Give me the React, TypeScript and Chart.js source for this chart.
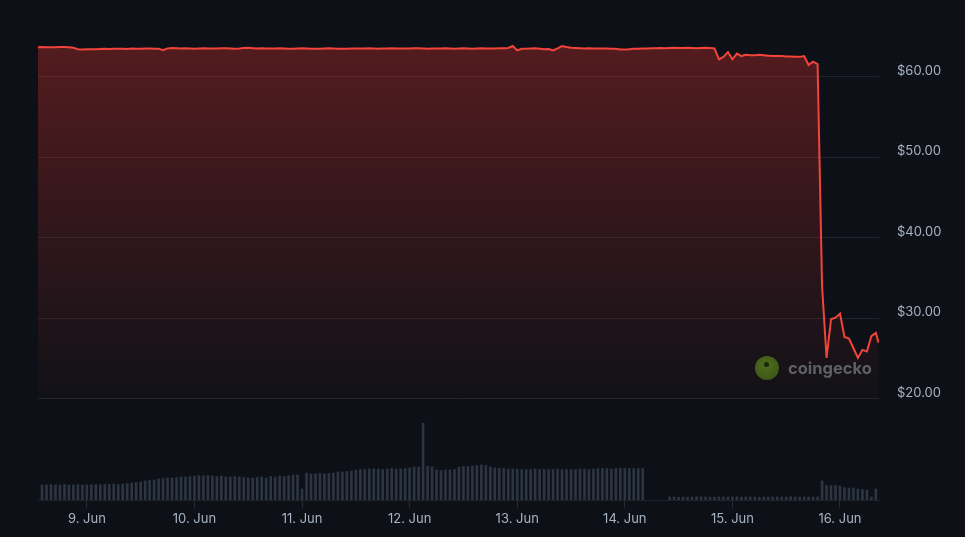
import React, { useEffect, useRef } from "react";
import { Chart, registerables } from "chart.js";

Chart.register(...registerables);

// hours counted from 8 Jun 00:00
const priceStartHour = 13;
const priceValues: number[] = [
  63.70, 63.72, 63.70, 63.68, 63.70, 63.72, 63.72, 63.70, 63.62, 63.45, 63.42, 63.44,
  63.46, 63.45, 63.48, 63.50, 63.49, 63.50, 63.52, 63.50, 63.49, 63.53, 63.50, 63.52,
  63.55, 63.53, 63.50, 63.52, 63.32, 63.55, 63.60, 63.58, 63.55, 63.56, 63.55, 63.52,
  63.55, 63.57, 63.55, 63.53, 63.55, 63.58, 63.56, 63.55, 63.52, 63.55, 63.60, 63.62,
  63.58, 63.55, 63.56, 63.55, 63.53, 63.55, 63.57, 63.55, 63.52, 63.50, 63.55, 63.58,
  63.55, 63.52, 63.50, 63.52, 63.55, 63.56, 63.55, 63.52, 63.50, 63.52, 63.55, 63.55,
  63.53, 63.55, 63.57, 63.55, 63.52, 63.54, 63.55, 63.56, 63.55, 63.53, 63.55, 63.55,
  63.56, 63.58, 63.55, 63.52, 63.55, 63.54, 63.55, 63.56, 63.55, 63.50, 63.55, 63.56,
  63.55, 63.52, 63.55, 63.56, 63.55, 63.53, 63.55, 63.57, 63.58, 63.60, 63.85, 63.30,
  63.50, 63.52, 63.55, 63.56, 63.50, 63.45, 63.48, 63.30, 63.55, 63.85, 63.72, 63.62,
  63.60, 63.58, 63.55, 63.56, 63.55, 63.53, 63.55, 63.55, 63.52, 63.50, 63.42, 63.40,
  63.45, 63.50, 63.52, 63.55, 63.55, 63.56, 63.58, 63.60, 63.58, 63.60, 63.62, 63.60,
  63.60, 63.62, 63.60, 63.58, 63.60, 63.62, 63.60, 63.55,
  62.20, 62.50, 63.10, 62.20, 62.90, 62.60, 62.75, 62.70, 62.70, 62.75, 62.70, 62.65,
  62.60, 62.60, 62.60, 62.55, 62.55, 62.50, 62.50, 62.60, 61.50, 61.90, 61.60, 34.00,
  25.10, 29.90, 30.10, 30.60, 27.70, 27.50, 26.30, 25.10, 26.10, 25.90, 27.80, 28.20,
];
const lastPriceHour = 200.6;
const lastPrice = 27.0;

const volumeStartHour = 14;
const volumeValues: (number | null)[] = [
  1.50, 1.50, 1.55, 1.50, 1.50, 1.55, 1.50, 1.50, 1.55, 1.50, 1.50, 1.52,
  1.55, 1.52, 1.55, 1.55, 1.60, 1.55, 1.60, 1.65, 1.70, 1.75, 1.80, 1.90,
  1.95, 2.00, 2.10, 2.15, 2.20, 2.20, 2.25, 2.30, 2.30, 2.35, 2.40, 2.45,
  2.40, 2.45, 2.40, 2.35, 2.40, 2.30, 2.30, 2.35, 2.30, 2.25, 2.20, 2.20,
  2.25, 2.30, 2.20, 2.35, 2.30, 2.40, 2.35, 2.45, 2.50, 2.50, 1.10, 2.70,
  2.60, 2.60, 2.65, 2.60, 2.65, 2.70, 2.80, 2.80, 2.85, 2.90, 3.00, 3.05,
  3.05, 3.10, 3.10, 3.10, 3.05, 3.10, 3.15, 3.10, 3.10, 3.15, 3.20, 3.30,
  3.30, 7.70, 3.35, 3.30, 3.00, 2.95, 3.00, 3.00, 3.05, 3.30, 3.35, 3.35,
  3.40, 3.45, 3.50, 3.45, 3.30, 3.20, 3.15, 3.15, 3.10, 3.10, 3.10, 3.05,
  3.05, 3.05, 3.10, 3.05, 3.05, 3.05, 3.05, 3.10, 3.05, 3.05, 3.05, 3.05,
  3.10, 3.10, 3.05, 3.10, 3.15, 3.15, 3.15, 3.10, 3.15, 3.15, 3.15, 3.15,
  3.15, 3.15, 3.15,
  null, null, null, null, null,
  0.30, 0.30, 0.28, 0.30, 0.30, 0.30, 0.32, 0.30, 0.30, 0.30, 0.28, 0.30,
  0.30, 0.30, 0.30, 0.32, 0.30, 0.30, 0.30, 0.30, 0.28, 0.30, 0.30, 0.30,
  0.30, 0.30, 0.30, 0.32, 0.30, 0.30, 0.30, 0.30, 0.30, 0.30,
  1.90, 1.45, 1.45, 1.45, 1.40, 1.25, 1.20, 1.20, 1.10, 1.05, 1.00, 0.30, 1.10,
];

const dayTickHours = [24, 48, 72, 96, 120, 144, 168, 192];
const dayTickLabels = ["9. Jun", "10. Jun", "11. Jun", "12. Jun", "13. Jun", "14. Jun", "15. Jun", "16. Jun"];
const priceTicks = [20, 30, 40, 50, 60];

const X_MIN = 13.1;
const X_MAX = 200.7;
const PRICE_MIN = 7.45;
const PRICE_MAX = 67.08;
const VOL_MAX = 48;

const BG = "#0d1117";
const LABEL = "#a7b3c4";
const FONT = "Inter, 'Noto Sans', sans-serif";

export default function App() {
  const canvasRef = useRef<HTMLCanvasElement | null>(null);

  useEffect(() => {
    document.body.style.margin = "0";
    document.body.style.background = BG;
    const canvas = canvasRef.current;
    if (!canvas) return;

    const priceData = priceValues.map((v, i) => ({ x: priceStartHour + i, y: v }));
    priceData.push({ x: lastPriceHour, y: lastPrice });
    const volumeData = volumeValues.map((v, i) => ({ x: volumeStartHour + i, y: v }));

    const chart = new Chart(canvas, {
      type: "bar",
      data: {
        datasets: [
          {
            type: "line",
            data: priceData as any,
            yAxisID: "y",
            xAxisID: "x",
            borderColor: "#f2443b",
            borderWidth: 2,
            pointRadius: 0,
            tension: 0,
            order: 0,
            fill: { value: 20 },
            backgroundColor: (ctx: any) => {
              const chart = ctx.chart;
              const area = chart.chartArea;
              if (!area) return "rgba(240,60,50,0.2)";
              const ys = chart.scales.y;
              const top = ys.getPixelForValue(64);
              const bottom = ys.getPixelForValue(20);
              const g = chart.ctx.createLinearGradient(0, top, 0, bottom);
              g.addColorStop(0, "rgba(235,52,50,0.32)");
              g.addColorStop(1, "rgba(235,52,50,0.02)");
              return g;
            },
          } as any,
          {
            type: "bar",
            data: volumeData as any,
            yAxisID: "yVol",
            xAxisID: "x",
            backgroundColor: "#2d3543",
            barThickness: 2,
            order: 1,
          } as any,
        ],
      },
      options: {
        animation: false,
        responsive: false,
        maintainAspectRatio: false,
        layout: { padding: { left: 38, top: 20, right: 0, bottom: 0 } },
        plugins: {
          legend: { display: false },
          tooltip: { enabled: false },
        },
        scales: {
          x: {
            type: "linear",
            position: "bottom",
            offset: false,
            min: X_MIN,
            max: X_MAX,
            afterBuildTicks: (s: any) => {
              s.ticks = dayTickHours.map((v) => ({ value: v }));
            },
            afterFit: (s: any) => {
              s.height = 37;
              s.paddingLeft = 0;
              s.paddingRight = 0;
            },
            ticks: {
              autoSkip: false,
              maxRotation: 0,
              padding: 3,
              color: LABEL,
              font: { family: FONT, size: 13 },
              callback: (v: any) => {
                const i = dayTickHours.indexOf(Number(v));
                return i >= 0 ? dayTickLabels[i] : "";
              },
            },
            grid: {
              offset: false,
              drawOnChartArea: false,
              drawTicks: true,
              tickLength: 8,
              color: "#252c36",
            },
            border: { display: true, color: "#1c222a" },
          },
          y: {
            type: "linear",
            position: "right",
            min: PRICE_MIN,
            max: PRICE_MAX,
            afterBuildTicks: (s: any) => {
              s.ticks = priceTicks.map((v) => ({ value: v }));
            },
            afterFit: (s: any) => {
              s.width = 86;
              s.paddingTop = 0;
              s.paddingBottom = 0;
            },
            ticks: {
              padding: 18,
              labelOffset: -6,
              color: LABEL,
              font: { family: FONT, size: 13 },
              callback: (v: any) => "$" + Number(v).toFixed(2),
            },
            grid: {
              drawTicks: false,
              color: "#1f252e",
              lineWidth: 1,
            },
            border: { display: false },
          },
          yVol: {
            type: "linear",
            display: false,
            min: 0,
            max: VOL_MAX,
          },
        },
      } as any,
    });

    return () => chart.destroy();
  }, []);

  return (
    <div style={{ position: "relative", width: 965, height: 537, background: BG, overflow: "hidden" }}>
      <canvas ref={canvasRef} width={965} height={537} style={{ display: "block", width: 965, height: 537 }} />
      <div
        style={{
          position: "absolute",
          left: 755,
          top: 356,
          width: 24,
          height: 24,
          borderRadius: "50%",
          background: "radial-gradient(circle at 45% 40%, #5b7d22 0%, #4a6a1a 60%, #3a5414 100%)",
          opacity: 0.85,
        }}
      >
        <div
          style={{
            position: "absolute",
            left: 9,
            top: 6,
            width: 5,
            height: 5,
            borderRadius: "50%",
            background: "#1e2a0c",
          }}
        />
      </div>
      <div
        style={{
          position: "absolute",
          left: 788,
          top: 357,
          fontFamily: FONT,
          fontWeight: 700,
          fontSize: 16.5,
          lineHeight: "22px",
          color: "#5d6064",
          letterSpacing: 0,
        }}
      >
        coingecko
      </div>
    </div>
  );
}
